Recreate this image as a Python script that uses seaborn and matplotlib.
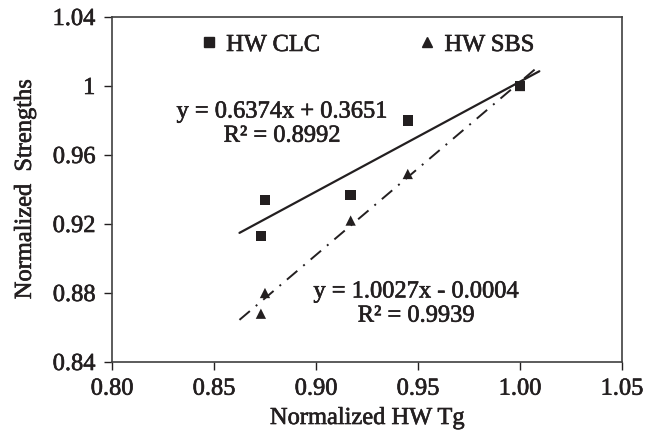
import matplotlib
matplotlib.use("Agg")
import matplotlib.pyplot as plt
import matplotlib.patheffects as pe
import numpy as np
import pandas as pd
import seaborn as sns
from matplotlib.lines import Line2D

# data
tg = [0.873, 0.875, 0.917, 0.945, 1.000]
clc = [0.913, 0.934, 0.937, 0.980, 1.000]
sbs = [0.868, 0.880, 0.922, 0.949, 1.000]
series = ["HW CLC", "HW SBS"]
fits = {"HW CLC": (0.6374, 0.3651), "HW SBS": (1.0027, -0.0004)}
fit_range = [0.8625, 1.0095]
xticks = [0.80, 0.85, 0.90, 0.95, 1.00, 1.05]
yticks = [0.84, 0.88, 0.92, 0.96, 1.00, 1.04]
ytick_labels = ["0.84", "0.88", "0.92", "0.96", "1", "1.04"]

df = pd.DataFrame({
    "tg": tg * 2,
    "strength": clc + sbs,
    "series": [series[0]] * len(tg) + [series[1]] * len(tg),
})

sns.set_style("ticks")
plt.rcParams["font.family"] = ["Liberation Serif", "DejaVu Serif"]
INK = "#231f20"
FS = 17.6
# the scanned figure has heavier strokes than Liberation Serif
heavy = [pe.withStroke(linewidth=0.45, foreground=INK)]

fig = plt.figure(figsize=(6.56, 4.38), dpi=100)
ax = fig.add_axes([0.1707, 0.1735, 0.7774, 0.7877])

markers = {"HW CLC": "s", "HW SBS": "^"}
sns.scatterplot(data=df, x="tg", y="strength", style="series", markers=markers,
                color=INK, s=55, edgecolor=INK, linewidth=0, ax=ax, legend=False,
                zorder=3)

xs = np.array(fit_range)
a, b = fits["HW CLC"]
sns.lineplot(x=xs, y=a * xs + b, color=INK, linewidth=1.6, ax=ax)
a, b = fits["HW SBS"]
sns.lineplot(x=xs, y=a * xs + b, color=INK, linewidth=1.4, ax=ax)
ax.lines[-1].set_dashes((7, 4, 1, 4))

ax.text(0.8833, 0.9779, "y = 0.6374x + 0.3651\nR² = 0.8992", ha="center", va="center",
        fontsize=FS, color=INK, linespacing=1.2, path_effects=heavy)
ax.text(0.949, 0.8736, "y = 1.0027x - 0.0004\nR² = 0.9939", ha="center", va="center",
        fontsize=FS, color=INK, linespacing=1.2, path_effects=heavy)

handles = [Line2D([], [], marker=markers[s], color=INK, linestyle="none", markersize=7)
           for s in series]
leg = ax.legend(handles, series, loc="center", bbox_to_anchor=(0.497, 0.919), ncol=2,
                frameon=False, fontsize=FS, handletextpad=0.2, columnspacing=3.9,
                handlelength=1.0)
for t in leg.get_texts():
    t.set_color(INK)
    t.set_path_effects(heavy)

ax.set_xlim(0.80, 1.05)
ax.set_ylim(0.84, 1.04)
ax.set_xticks(xticks)
ax.set_xticklabels([f"{t:.2f}" for t in xticks])
ax.set_yticks(yticks)
ax.set_yticklabels(ytick_labels)
ax.tick_params(labelsize=FS, colors=INK, length=6, width=1.0, direction="out")
ax.tick_params(axis="x", pad=6)
ax.tick_params(axis="y", pad=6)
for lab in ax.get_xticklabels() + ax.get_yticklabels():
    lab.set_path_effects(heavy)
for sp in ax.spines.values():
    sp.set_visible(True)
    sp.set_color("#404040")
    sp.set_linewidth(1.2)

ax.set_xlabel("Normalized HW Tg", fontsize=FS, color=INK, labelpad=6,
              path_effects=heavy)
ax.set_ylabel("Normalized  Strengths", fontsize=FS, color=INK, labelpad=12,
              path_effects=heavy)

plt.savefig("out.png", dpi=100)
plt.close()
